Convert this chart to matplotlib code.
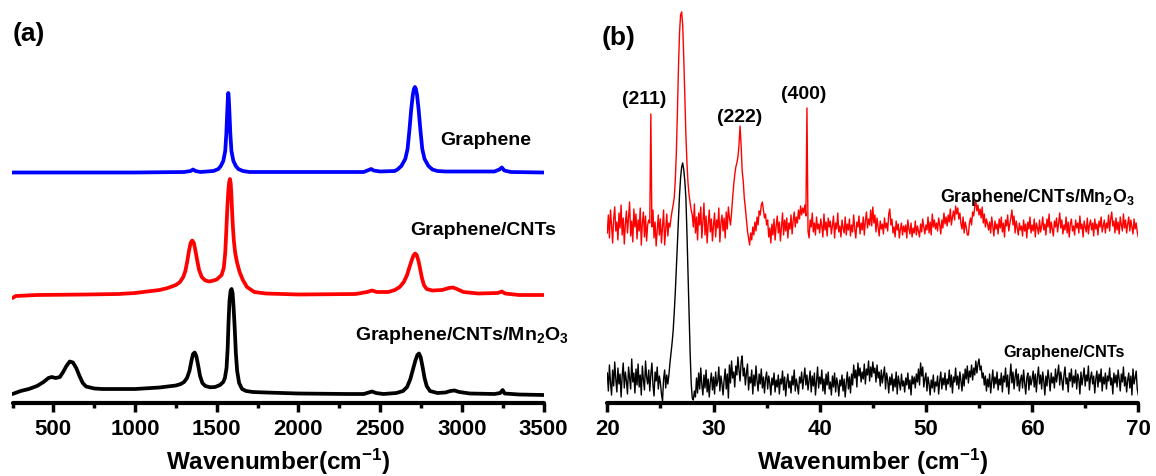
import numpy as np
import matplotlib
matplotlib.use("Agg")
import matplotlib.pyplot as plt
from matplotlib.ticker import MultipleLocator

plt.rcParams['font.family'] = ['Liberation Sans', 'DejaVu Sans']
plt.rcParams['font.weight'] = 'bold'
plt.rcParams['mathtext.fontset'] = 'custom'
plt.rcParams['mathtext.rm'] = 'Liberation Sans:bold'
plt.rcParams['mathtext.bf'] = 'Liberation Sans:bold'
plt.rcParams['mathtext.it'] = 'Liberation Sans:bold'
plt.rcParams['mathtext.default'] = 'rm'

# ---------------- (a) Raman spectra (wavenumber, intensity a.u.) ----------------
graphene_wn = [250, 600, 1000, 1300, 1340, 1355, 1370, 1400, 1480, 1510, 1525, 1540, 1552,
               1559, 1564, 1568, 1571, 1574, 1578, 1583, 1590, 1602, 1617, 1632, 1660, 1700,
               2400, 2430, 2445, 2460, 2500, 2590, 2606, 2630, 2654, 2668, 2680, 2690, 2700,
               2707, 2713, 2719, 2726, 2736, 2746, 2758, 2772, 2796, 2820, 2850, 2900, 3200,
               3230, 3245, 3260, 3300, 3500]
graphene_int = [230.5, 230.5, 230.5, 231, 232, 233.5, 232, 231, 232, 234, 237, 242, 252,
                270, 290, 304, 310, 304, 290, 270, 252, 242, 237, 234, 232, 231,
                231, 233, 234, 232.5, 231.5, 232, 233.5, 237, 244, 254, 274, 293, 308,
                314, 316, 314, 308, 293, 274, 254, 244, 237, 233.5, 232, 231.5, 231.5,
                233.5, 235.5, 232.5, 231, 230.5]

gcnt_wn = [250, 270, 400, 700, 900, 1000, 1100, 1150, 1200, 1250, 1275, 1295, 1308, 1320,
           1330, 1340, 1350, 1360, 1370, 1380, 1392, 1408, 1430, 1455, 1480, 1500, 1530,
           1543, 1552, 1558, 1564, 1570, 1576, 1581, 1586, 1590, 1594, 1599, 1605, 1613,
           1625, 1640, 1660, 1685, 1730, 1800, 2000, 2350, 2420, 2450, 2480, 2550, 2590,
           2620, 2645, 2665, 2680, 2692, 2704, 2714, 2724, 2735, 2745, 2756, 2768, 2785,
           2820, 2880, 2920, 2945, 2970, 3010, 3100, 3220, 3245, 3265, 3350, 3500]
gcnt_int = [105, 107, 108, 108.5, 109, 110, 112, 113, 115, 118, 121, 126, 132, 142,
            152, 160, 162.5, 160, 152, 143, 133, 126, 122.5, 121.5, 122.5, 123.5, 128,
            135, 150, 170, 192, 210, 221, 224, 219, 207, 192, 176, 162, 150,
            140, 131, 123, 116, 111, 109.5, 108.5, 109, 111, 112.5, 111, 111, 113,
            116, 121, 128, 136, 142, 147.5, 149.5, 148, 142, 134, 125, 118, 114,
            112.5, 113, 115, 115.5, 114, 111, 109.5, 110, 111.5, 109.5, 108, 108]

gcm_wn = [250, 300, 350, 400, 440, 470, 490, 515, 540, 560, 580, 600, 620, 640, 660, 680,
          700, 750, 800, 1000, 1150, 1250, 1280, 1300, 1318, 1333, 1345, 1355, 1365, 1375,
          1387, 1398, 1412, 1430, 1460, 1490, 1520, 1540, 1550, 1560, 1567, 1572, 1578,
          1585, 1591, 1597, 1603, 1610, 1617, 1625, 1637, 1655, 1680, 1720, 1800, 2000,
          2300, 2400, 2430, 2450, 2475, 2520, 2600, 2640, 2665, 2685, 2700, 2715, 2728,
          2738, 2748, 2760, 2772, 2785, 2805, 2850, 2900, 2930, 2955, 2985, 3050, 3200,
          3235, 3250, 3262, 3350, 3500]
gcm_int = [9, 12, 14, 17, 21, 25, 26, 25, 26, 31, 37, 41.5, 40.5, 35, 27, 20,
           16.5, 14.5, 14, 14, 15.5, 17.5, 19, 21, 25, 32, 42, 49, 50.5, 47,
           37, 27, 20, 17, 15.7, 16, 18, 21, 25, 35, 55, 80, 102,
           112.5, 114, 110, 96, 75, 50, 32, 20, 14, 12, 11, 10.5, 9.5,
           9, 9, 10.5, 11.5, 10, 9, 10, 12, 16, 24, 33, 42, 48,
           49.5, 46, 36, 25, 17, 12, 10, 10.5, 12, 12.5, 11, 9.5, 9,
           10, 13, 9.5, 8.5, 8]

raman_ticks = [500, 1000, 1500, 2000, 2500, 3000, 3500]

# ---------------- (b) XRD patterns (2theta from 20 to 70, step 0.1) ----------------
xrd_2theta = np.round(np.linspace(20, 70, 501), 1)

xrd_gcm = [
    170, 188, 165, 193, 178, 160, 184, 196, 172, 181,
    163, 190, 175, 198, 168, 185, 159, 179, 192, 170,
    186, 201, 167, 182, 161, 194, 176, 189, 164, 183,
    172, 195, 158, 180, 191, 166, 187, 162, 178, 183,
    180, 289, 176, 193, 165, 181, 157, 172, 188, 168,
    184, 160, 177, 193, 158, 174, 189, 167, 180, 176,
    185, 192, 198, 205, 222, 250, 290, 335, 370, 388,
    391, 378, 345, 305, 268, 240, 220, 208, 200, 193,
    188, 176, 199, 170, 186, 163, 190, 178, 196, 165,
    181, 200, 168, 187, 160, 179, 193, 171, 184, 162,
    178, 190, 166, 183, 175, 195, 161, 180, 188, 172,
    185, 165, 191, 174, 196, 185, 178, 190, 205, 218,
    228, 236, 240, 246, 258, 277, 258, 232, 222, 205,
    195, 183, 172, 165, 158, 170, 163, 176, 168, 181,
    172, 186, 178, 192, 188, 198, 201, 193, 185, 189,
    178, 183, 166, 175, 160, 179, 168, 184, 163, 177,
    187, 170, 181, 162, 176, 190, 168, 183, 172, 185,
    165, 180, 174, 188, 169, 182, 191, 176, 186, 180,
    193, 184, 197, 188, 195, 190, 198, 187, 295, 172,
    165, 183, 176, 190, 171, 180, 168, 186, 174, 179,
    170, 184, 177, 166, 189, 173, 181, 167, 185, 176,
    182, 169, 178, 187, 165, 180, 174, 190, 171, 177,
    166, 183, 175, 170, 186, 168, 179, 173, 184, 167,
    178, 171, 188, 174, 165, 181, 176, 187, 169, 180,
    173, 186, 168, 182, 191, 175, 184, 178, 193, 177,
    196, 180, 188, 171, 185, 176, 167, 182, 174, 179,
    169, 185, 175, 180, 172, 189, 194, 178, 184, 170,
    176, 166, 182, 173, 179, 165, 174, 180, 168, 177,
    171, 178, 165, 183, 174, 169, 180, 166, 175, 170,
    182, 168, 177, 172, 166, 179, 171, 184, 176, 169,
    178, 173, 186, 170, 181, 168, 189, 176, 183, 174,
    180, 172, 185, 178, 169, 183, 175, 190, 179, 186,
    177, 188, 181, 194, 178, 186, 192, 183, 197, 189,
    195, 184, 190, 179, 174, 186, 170, 181, 176, 168,
    168, 180, 185, 178, 191, 187, 196, 203, 192, 198,
    188, 194, 185, 196, 180, 189, 176, 184, 179, 173,
    181, 170, 186, 176, 167, 182, 174, 179, 169, 184,
    175, 186, 171, 180, 166, 183, 177, 188, 172, 179,
    185, 193, 178, 187, 170, 182, 175, 168, 180, 173,
    177, 167, 183, 172, 179, 165, 181, 174, 186, 170,
    178, 172, 184, 166, 180, 175, 169, 183, 171, 177,
    186, 173, 179, 168, 184, 176, 189, 170, 181, 174,
    167, 182, 176, 185, 171, 180, 190, 175, 183, 169,
    178, 173, 186, 170, 181, 166, 179, 184, 172, 177,
    168, 183, 175, 180, 170, 187, 174, 179, 166, 182,
    176, 171, 185, 169, 178, 183, 173, 180, 167, 184,
    174, 179, 168, 182, 176, 186, 171, 177, 183, 170,
    180, 175, 188, 172, 184, 191, 177, 182, 170, 185,
    173, 181, 169, 186, 178, 172, 189, 175, 183, 170,
    179, 186, 172, 183, 176, 169, 184, 174, 180, 171,
    166]

xrd_gcnt = [
    30, 12, 38, 20, 8, 33, 17, 41, 24, 11,
    35, 19, 29, 6, 27, 40, 15, 31, 22, 9,
    36, 25, 14, 44, 21, 30, 10, 34, 18, 39,
    16, 28, 8, 37, 23, 13, 42, 26, 19, 33,
    12, 29, 40, 18, 7, 31, 22, 36, 14, 27,
    20, 9, 2, 24, 33, 15, 28, 19, 28, 40,
    50, 60, 72, 90, 110, 135, 160, 185, 208, 225,
    236, 240, 233, 222, 205, 170, 130, 90, 50, 20,
    5, 3, 12, 6, 25, 10, 30, 14, 35, 18,
    8, 28, 15, 33, 11, 24, 6, 21, 30, 13,
    26, 9, 31, 17, 22, 36, 12, 27, 19, 8,
    23, 34, 14, 29, 5, 38, 20, 42, 25, 31,
    16, 37, 28, 46, 33, 22, 41, 47, 27, 35,
    18, 30, 39, 13, 26, 20, 33, 9, 28, 17,
    37, 22, 12, 29, 19, 34, 15, 26, 10, 24,
    31, 14, 27, 20, 8, 25, 18, 30, 11, 23,
    16, 28, 9, 24, 19, 32, 13, 26, 7, 21,
    29, 15, 22, 10, 27, 18, 33, 12, 24, 17,
    9, 26, 20, 31, 14, 25, 35, 18, 28, 13,
    23, 32, 11, 27, 17, 30, 8, 22, 36, 15,
    26, 19, 33, 12, 24, 9, 29, 18, 31, 14,
    21, 8, 27, 16, 30, 11, 25, 19, 7, 23,
    17, 28, 12, 24, 6, 20, 31, 14, 26, 10,
    29, 18, 38, 25, 33, 16, 40, 27, 35, 21,
    31, 24, 39, 19, 34, 28, 42, 22, 36, 26,
    41, 30, 35, 21, 38, 25, 31, 17, 33, 20,
    28, 36, 14, 30, 23, 10, 26, 18, 29, 12,
    24, 16, 31, 9, 27, 20, 13, 29, 17, 22,
    11, 25, 18, 30, 14, 23, 8, 27, 19, 26,
    15, 29, 21, 34, 18, 40, 27, 36, 16, 24,
    30, 12, 26, 19, 8, 23, 15, 28, 11, 21,
    17, 27, 9, 22, 31, 14, 25, 18, 30, 13,
    24, 19, 33, 16, 28, 10, 26, 21, 35, 18,
    27, 14, 31, 22, 12, 29, 17, 34, 24, 37,
    20, 32, 26, 38, 23, 35, 28, 42, 30, 39,
    44, 33, 37, 25, 30, 18, 27, 12, 24, 16,
    29, 10, 22, 33, 15, 26, 19, 31, 13, 24,
    18, 30, 11, 27, 21, 35, 16, 28, 9, 25,
    39, 20, 31, 14, 26, 34, 17, 29, 12, 23,
    28, 15, 33, 20, 9, 25, 30, 13, 27, 18,
    24, 32, 16, 29, 11, 26, 36, 19, 28, 14,
    31, 22, 8, 27, 17, 33, 24, 12, 30, 20,
    26, 15, 34, 21, 29, 38, 18, 31, 23, 13,
    28, 36, 19, 25, 11, 30, 22, 34, 16, 27,
    20, 33, 14, 29, 24, 9, 31, 18, 26, 35,
    17, 28, 22, 37, 13, 25, 31, 19, 27, 10,
    24, 32, 16, 29, 21, 34, 12, 26, 19, 30,
    14, 27, 22, 35, 18, 25, 9, 30, 20, 28,
    16, 33, 24, 12, 29, 21, 36, 17, 26, 11,
    23, 30, 15, 27, 8, 34, 19, 25, 32, 14,
    8]

xrd_ticks = [20, 30, 40, 50, 60, 70]
peak_labels = ['(211)', '(222)', '(400)']
peak_label_pos = [(23.5, 304), (32.43, 286), (38.52, 309.5)]

# ---------------- figure ----------------
W, H = 1156, 477
fig = plt.figure(figsize=(W / 100, H / 100), dpi=100)
fig.patch.set_facecolor('white')

axa = fig.add_axes([12.5 / W, 73 / H, 531 / W, 404 / H])
axb = fig.add_axes([607.3 / W, 73 / H, 531 / W, 404 / H])

lw_a = 2.7
axa.plot(graphene_wn, graphene_int, color='#0000ff', lw=lw_a, solid_joinstyle='round', solid_capstyle='round')
axa.plot(gcnt_wn, gcnt_int, color='#ff0000', lw=lw_a, solid_joinstyle='round', solid_capstyle='round')
axa.plot(gcm_wn, gcm_int, color='black', lw=lw_a, solid_joinstyle='round', solid_capstyle='round')

axb.plot(xrd_2theta, xrd_gcm, color='#ff0000', lw=1.0)
axb.plot(xrd_2theta, xrd_gcnt, color='black', lw=1.0)

axa.set_xlim(250, 3500)
axb.set_xlim(20, 70)
axa.set_xticks(raman_ticks)
axa.xaxis.set_minor_locator(MultipleLocator(250))
axb.set_xticks(xrd_ticks)
axb.xaxis.set_minor_locator(MultipleLocator(5))

for ax in (axa, axb):
    ax.set_ylim(0, 404)
    ax.patch.set_alpha(0)
    for s in ('left', 'right', 'top'):
        ax.spines[s].set_visible(False)
    ax.spines['bottom'].set_linewidth(3)
    ax.spines['bottom'].set_capstyle('round')
    ax.set_yticks([])
    ax.tick_params(axis='x', which='major', direction='out', length=6.5, width=2.5,
                   pad=4, labelsize=16)
    ax.tick_params(axis='x', which='minor', direction='out', length=3.5, width=2.5)
    for lab in ax.get_xticklabels():
        lab.set_fontweight('bold')

axa.set_xlabel('Wavenumber(cm$^{-1}$)', fontsize=17.5, fontweight='bold', labelpad=5)
axb.set_xlabel('Wavenumber (cm$^{-1}$)', fontsize=17.5, fontweight='bold', labelpad=5)

axa.text(2866, 259, 'Graphene', fontsize=14, fontweight='bold', ha='left', va='baseline')
axa.text(2683, 169, 'Graphene/CNTs', fontsize=14, fontweight='bold', ha='left', va='baseline')
axa.text(2346, 64, 'Graphene/CNTs/Mn$_2$O$_3$', fontsize=14, fontweight='bold', ha='left', va='baseline')

axb.text(51.33, 202.5, 'Graphene/CNTs/Mn$_2$O$_3$', fontsize=12.8, fontweight='bold', ha='left', va='baseline')
axb.text(57.26, 46.5, 'Graphene/CNTs', fontsize=11.7, fontweight='bold', ha='left', va='baseline')
for lab, (px, py) in zip(peak_labels, peak_label_pos):
    axb.text(px, py, lab, fontsize=14, fontweight='bold', ha='center', va='center')

fig.text(13 / W, 1 - 41.5 / H, '(a)', fontsize=19, fontweight='bold', ha='left', va='baseline')
fig.text(601.7 / W, 1 - 44.5 / H, '(b)', fontsize=19, fontweight='bold', ha='left', va='baseline')

fig.savefig('out.png', dpi=100)
